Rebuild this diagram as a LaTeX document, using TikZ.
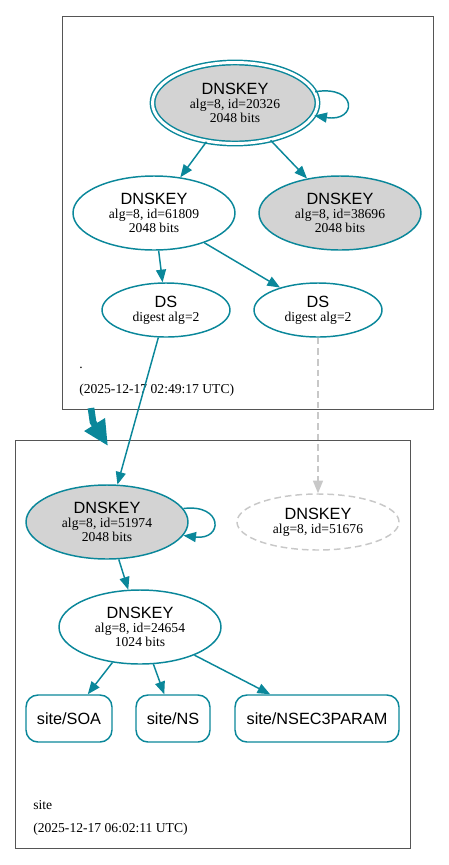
\documentclass[tikz,border=0pt]{standalone}
\usepackage{fontspec}
\setmainfont{Liberation Serif}
\setsansfont{Liberation Sans}
\usetikzlibrary{shapes.geometric,arrows.meta}
\definecolor{dnsteal}{RGB}{10,135,154}
\definecolor{keygray}{RGB}{211,211,211}
\definecolor{ghostgray}{RGB}{200,200,200}
\definecolor{zoneline}{RGB}{85,85,85}
\newcommand{\rrname}[1]{{\sffamily\fontsize{12.2}{13}\selectfont #1}}

\begin{document}
\begin{tikzpicture}[x=0.75pt,y=0.75pt,yscale=-1,xscale=1,
  key/.style={ellipse,draw=dnsteal,line width=1.1pt,inner sep=0pt,minimum width=121.5pt,minimum height=55.5pt,align=center,font=\fontsize{10.2}{10.6}\selectfont},
  dsrec/.style={key,minimum width=96pt,minimum height=40.5pt},
  ghostkey/.style={key,draw=ghostgray,dashed,dash pattern=on 5pt off 3pt,minimum height=42pt},
  rrset/.style={rectangle,rounded corners=9pt,draw=dnsteal,line width=1.1pt,minimum height=35.25pt,inner sep=0pt,font=\sffamily\fontsize{12.2}{13}\selectfont},
  zone/.style={rectangle,draw=zoneline,line width=0.75pt,inner sep=0pt},
  zonelbl/.style={anchor=west,inner sep=0pt,font=\fontsize{10.2}{11}\selectfont},
  edge/.style={draw=dnsteal,line width=1.1pt,-{Triangle[length=9.5pt,width=7.5pt]}},
  ghostedge/.style={draw=ghostgray,line width=1.1pt,dashed,dash pattern=on 5pt off 3pt,-{Triangle[length=9.5pt,width=7.5pt]}}]
\useasboundingbox (0,0) rectangle (449,865);

%Shape: Rectangle [zone .]
\node[zone,minimum width=278.25pt,minimum height=294.75pt] (rootzone) at (247.5,212.5) {};
%Shape: Rectangle [zone site]
\node[zone,minimum width=296.25pt,minimum height=306pt] (sitezone) at (212.5,644) {};

%Shape: Ellipse [root keys]
\node[key,fill=keygray,double=white,double distance=2.2pt,minimum width=123.75pt,minimum height=60.75pt] (k20326) at (235,103) {\rrname{DNSKEY}\\alg=8, id=20326\\2048 bits};
\node[key] (k61809) at (154,213) {\rrname{DNSKEY}\\alg=8, id=61809\\2048 bits};
\node[key,fill=keygray] (k38696) at (340,213) {\rrname{DNSKEY}\\alg=8, id=38696\\2048 bits};
%Shape: Ellipse [DS]
\node[dsrec] (dsleft) at (166,310) {\rrname{DS}\\digest alg=2};
\node[dsrec] (dsright) at (318,310) {\rrname{DS}\\digest alg=2};

% Text Node
\node[zonelbl] (rootname) at (79,368) {.};
% Text Node
\node[zonelbl] (rootstamp) at (79,390) {(2025-12-17 02:49:17 UTC)};

%Shape: Ellipse [site keys]
\node[key,fill=keygray] (k51974) at (107,522) {\rrname{DNSKEY}\\alg=8, id=51974\\2048 bits};
\node[ghostkey] (k51676) at (318,522) {\rrname{DNSKEY}\\alg=8, id=51676};
\node[key] (k24654) at (140,627) {\rrname{DNSKEY}\\alg=8, id=24654\\1024 bits};
%Shape: Rounded Rectangle [RRsets]
\node[rrset,minimum width=64.5pt] (soa) at (69,718.5) {site/SOA};
\node[rrset,minimum width=55.5pt] (ns) at (173,718.5) {site/NS};
\node[rrset,minimum width=123pt] (nsec3param) at (317,718.5) {site/NSEC3PARAM};

% Text Node
\node[zonelbl] (sitename) at (33,805) {site};
% Text Node
\node[zonelbl] (sitestamp) at (33,829) {(2025-12-17 06:02:11 UTC)};

%Straight Lines [signatures and digests]
\draw[edge] (k20326.8) .. controls +(43,-7) and +(43,7) .. (k20326.-9);
\draw[edge] (k20326) -- (k61809);
\draw[edge] (k20326) -- (k38696);
\draw[edge] (k61809) -- (dsleft);
\draw[edge] (k61809) -- (dsright);
\draw[edge] (dsleft) -- (k51974);
\draw[ghostedge] (dsright) -- (k51676);
\draw[edge] (k51974.10) .. controls +(40,-5) and +(40,5) .. (k51974.-10);
\draw[edge] (k51974) -- (k24654);
\draw[edge] (k24654) -- (soa);
\draw[edge] (k24654) -- (ns);
\draw[edge] (k24654) -- (nsec3param);

%Straight Lines [zone delegation]
\coordinate (zonetail) at (91,408);
\coordinate (zonebend) at (93,422);
\coordinate (zonehead) at (108,446);
\draw[draw=dnsteal,line width=5pt,line join=miter,-{Triangle[length=19pt,width=17pt]}] (zonetail) -- (zonebend) -- (zonehead);
\end{tikzpicture}
\end{document}
